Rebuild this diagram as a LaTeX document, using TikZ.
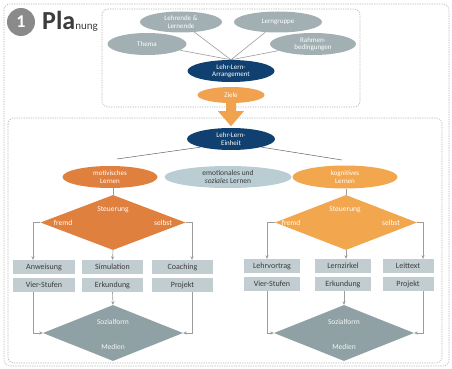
\documentclass[tikz,border=0pt]{standalone}
\usepackage{fontspec}
\setmainfont{Carlito}
\usetikzlibrary{shapes.geometric,arrows.meta,backgrounds,calc}
\definecolor{grayell}{HTML}{A2B0B3}
\definecolor{dblue}{HTML}{0F406F}
\definecolor{zorange}{HTML}{F0A24E}
\definecolor{morange}{HTML}{E0803F}
\definecolor{korange}{HTML}{F2A64E}
\definecolor{emoc}{HTML}{B9CDD2}
\definecolor{boxc}{HTML}{C1CDD0}
\definecolor{txtc}{HTML}{3C3C3C}
\definecolor{ldia}{HTML}{8FA1A4}
\definecolor{circc}{HTML}{8A8A8A}
\definecolor{linec}{HTML}{9C9C9C}
\definecolor{dashc}{HTML}{B4B4B4}
\begin{document}
\begin{tikzpicture}[x=1pt,y=-1pt,
  ell/.style={ellipse, inner sep=0pt, align=center, text=white, font=\fontsize{7}{7.5}\selectfont},
  dia/.style={diamond, inner sep=0pt, aspect=2.6},
  lbl/.style={inner sep=0pt, text=white, font=\fontsize{7.5}{8}\selectfont},
  boxn/.style={rectangle, fill=boxc, text=txtc, inner sep=0pt, minimum height=14pt, font=\fontsize{8}{9}\selectfont},
  dashbox/.style={draw=dashc, line width=0.6pt, dash pattern=on 1.2pt off 1.2pt, rounded corners=6pt},
  toplink/.style={draw=linec, line width=0.6pt},
  unitlink/.style={draw=txtc!80, line width=0.5pt},
  conn/.style={draw=linec, line width=0.6pt, -{Stealth[length=3.5pt,width=3.2pt]}},
  plain/.style={draw=linec, line width=0.6pt}]
\useasboundingbox (0,0) rectangle (452,369);
\begin{pgfonlayer}{background}
\fill[white] (0,0) rectangle (452,369);
\end{pgfonlayer}
% frames
\draw[dashbox] (4,4) rectangle (449,366);
\draw[dashbox] (102,9) rectangle (360,107);
\draw[dashbox] (8,118) rectangle (442,363);
% title
\node[circle, fill=circc, minimum size=28pt, inner sep=0pt, text=white, font=\bfseries\fontsize{18}{18}\selectfont] (num) at (21,22) {1};
\node[anchor=base west, text=txtc, inner sep=0pt] (title) at (42,30) {\fontsize{26}{26}\selectfont\bfseries Pla\fontsize{11}{11}\selectfont\mdseries nung};
% top ellipses
\node[ell, fill=grayell, minimum width=82pt, minimum height=21pt] (lehr) at (181,22) {Lehrende \&\\Lernende};
\node[ell, fill=grayell, minimum width=88pt, minimum height=21pt] (lg) at (278,22) {Lerngruppe};
\node[ell, fill=grayell, minimum width=79pt, minimum height=22pt] (thema) at (147,44) {Thema};
\node[ell, fill=grayell, minimum width=86pt, minimum height=22pt] (rb) at (313,44) {Rahmen-\\bedingungen};
\node[ell, fill=dblue, minimum width=87pt, minimum height=22pt] (arr) at (231,71) {Lehr-Lern-\\Arrangement};
\node[ell, fill=zorange, minimum width=67pt, minimum height=16pt] (ziele) at (231,95) {Ziele};
\begin{pgfonlayer}{background}
\draw[toplink] (lehr) -- (arr.north);
\draw[toplink] (lg) -- (arr.north);
\draw[toplink] (thema) -- (arr.north);
\draw[toplink] (rb) -- (arr.north);
\end{pgfonlayer}
% block arrow
\fill[zorange] ($(ziele.south)+(-5,0)$) -- ($(ziele.south)+(5,0)$) -- ($(ziele.south)+(5,8)$) -- ($(ziele.south)+(13,8)$) -- ($(ziele.south)+(0,23)$) -- ($(ziele.south)+(-13,8)$) -- ($(ziele.south)+(-5,8)$) -- cycle;
% unit
\node[ell, fill=dblue, minimum width=88pt, minimum height=22pt] (einheit) at (231,139) {Lehr-Lern-\\Einheit};
\node[ell, fill=emoc, text=txtc, minimum width=127pt, minimum height=22pt, font=\fontsize{7.5}{8}\selectfont] (emo) at (228,177) {emotionales und\\\textit{soziales} Lernen};
\node[ell, fill=morange, minimum width=95pt, minimum height=22pt] (mot) at (110,177) {motivisches\\Lernen};
\node[ell, fill=korange, minimum width=105pt, minimum height=23pt] (kog) at (345,177) {kognitives\\Lernen};
\coordinate (mtop) at (117,159);
\coordinate (ktop) at (342,160);
\draw[unitlink] (einheit.195) -- (mtop);
\draw[unitlink] (einheit.-15) -- (ktop);
% Steuerung diamonds
\node[dia, fill=morange, minimum width=145pt, minimum height=55pt] (dl) at (113,222.5) {};
\node[lbl] (dlt) at (113,210) {Steuerung};
\node[lbl] (dlf) at (63,223) {fremd};
\node[lbl] (dls) at (163,223) {selbst};
\node[dia, fill=korange, minimum width=142pt, minimum height=55pt] (dr) at (346,222.5) {};
\node[lbl] (drt) at (345,210) {Steuerung};
\node[lbl] (drf) at (291,223) {fremd};
\node[lbl] (drs) at (391,223) {selbst};
\draw[plain] (dl.north) -- (dl.north |- mot.south);
\draw[plain] (dr.north) -- (dr.north |- kog.south);
% boxes left
\node[boxn, minimum width=62pt] (anw) at (44,267) {Anweisung};
\node[boxn, minimum width=61pt] (sim) at (112.5,267) {Simulation};
\node[boxn, minimum width=61pt] (coa) at (182.5,267) {Coaching};
\node[boxn, minimum width=62pt] (vsl) at (44,285) {Vier-Stufen};
\node[boxn, minimum width=61pt] (erl) at (112.5,285) {Erkundung};
\node[boxn, minimum width=61pt] (prl) at (182.5,285) {Projekt};
% boxes right
\node[boxn, minimum width=56pt] (lv) at (272,266) {Lehrvortrag};
\node[boxn, minimum width=56pt] (lz) at (343,266) {Lernzirkel};
\node[boxn, minimum width=51pt] (lt) at (408,266) {Leittext};
\node[boxn, minimum width=56pt] (vsr) at (272,284) {Vier-Stufen};
\node[boxn, minimum width=56pt] (err) at (343,284) {Erkundung};
\node[boxn, minimum width=51pt] (prr) at (408,284) {Projekt};
% lower diamonds
\node[dia, fill=ldia, minimum width=140pt, minimum height=56pt] (sl) at (113,333) {};
\node[lbl, text=white!90!ldia] (slt) at (113,322) {Sozialform};
\node[lbl, text=white!90!ldia] (slm) at (113,347) {Medien};
\node[dia, fill=ldia, minimum width=140pt, minimum height=56pt] (sr) at (344,333) {};
\node[lbl, text=white!90!ldia] (srt) at (344,322) {Sozialform};
\node[lbl, text=white!90!ldia] (srm) at (344,347) {Medien};
% connectors left
\draw[conn] (dl.west) -| ([xshift=-11pt]anw.north);
\draw[conn] (dl.south) -- (sim.north);
\draw[conn] (dl.east) -| ([xshift=9.5pt]coa.north);
\draw[conn] ([xshift=-11pt]vsl.south) |- (sl.west);
\draw[conn] (erl.south) -- (sl.north);
\draw[conn] ([xshift=9.5pt]prl.south) |- (sl.east);
% connectors right
\draw[conn] (dr.west) -| ([xshift=-5pt]lv.north);
\draw[conn] (dr.south) -- (dr.south |- lz.north);
\draw[conn] (dr.east) -| ([xshift=15pt]lt.north);
\draw[conn] ([xshift=-5pt]vsr.south) |- (sr.west);
\draw[conn] (err.south -| sr.north) -- (sr.north);
\draw[conn] ([xshift=15pt]prr.south) |- (sr.east);
\end{tikzpicture}
\end{document}
